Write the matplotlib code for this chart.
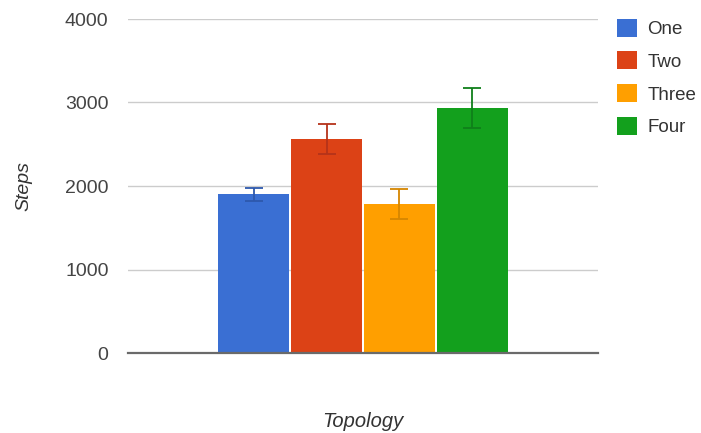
import matplotlib
matplotlib.use("Agg")
import matplotlib.pyplot as plt
from matplotlib.patches import Patch

plt.rcParams['font.family'] = ['Liberation Sans', 'DejaVu Sans']

# Data
series = ["One", "Two", "Three", "Four"]
values = [1900, 2560, 1780, 2930]
errors = [80, 180, 180, 240]
colors = ["#3a6fd3", "#dc4216", "#ff9f00", "#13a01d"]
err_colors = ["#2d58ad", "#b5331a", "#d68600", "#0f7f1a"]
category = "Topology"
yticks = [0, 1000, 2000, 3000, 4000]

fig = plt.figure(figsize=(7.01, 4.33), dpi=100)
ax = fig.add_axes([128/701, 1-353/433, 470/701, 334/433])

width = 0.152
step = 0.155
for i, (v, e, c, ec) in enumerate(zip(values, errors, colors, err_colors)):
    x = (i - 1.5) * step
    ax.bar(x, v, width=width, color=c, zorder=2, label=series[i])
    ax.errorbar(x, v, yerr=e, fmt='none', ecolor=ec, elinewidth=1.3,
                capsize=6.5, capthick=1.3, zorder=3)

ax.set_xlim(-0.5, 0.5)
ax.set_ylim(0, 4000)
ax.set_yticks(yticks)
ax.set_yticklabels([str(t) for t in yticks])
ax.set_xticks([])
ax.grid(axis='y', color='#cccccc', linewidth=1, zorder=0)
for s in ['top', 'right', 'left']:
    ax.spines[s].set_visible(False)
ax.spines['bottom'].set_color('#6a6a6a')
ax.spines['bottom'].set_linewidth(1.6)
ax.spines['bottom'].set_zorder(4)
ax.tick_params(axis='y', length=0, pad=14, labelsize=14, labelcolor='#444444')

ax.set_ylabel("Steps", fontsize=14, style='italic', color='#333333')
ax.yaxis.set_label_coords(-0.204, 0.5)
ax.set_xlabel(category, fontsize=14.5, style='italic', color='#333333')
ax.xaxis.set_label_coords(0.5, -(412 - 353) / 334)

handles = [Patch(facecolor=c, edgecolor='none') for c in colors]
leg = fig.legend(handles, series, loc='upper left', bbox_to_anchor=(609/701, 1-11/433),
                 frameon=False, fontsize=13.5, handlelength=1.1, handleheight=1.1,
                 handletextpad=0.55, labelspacing=0.72, borderaxespad=0)
for t in leg.get_texts():
    t.set_color('#333333')

fig.savefig("out.png", dpi=100)
